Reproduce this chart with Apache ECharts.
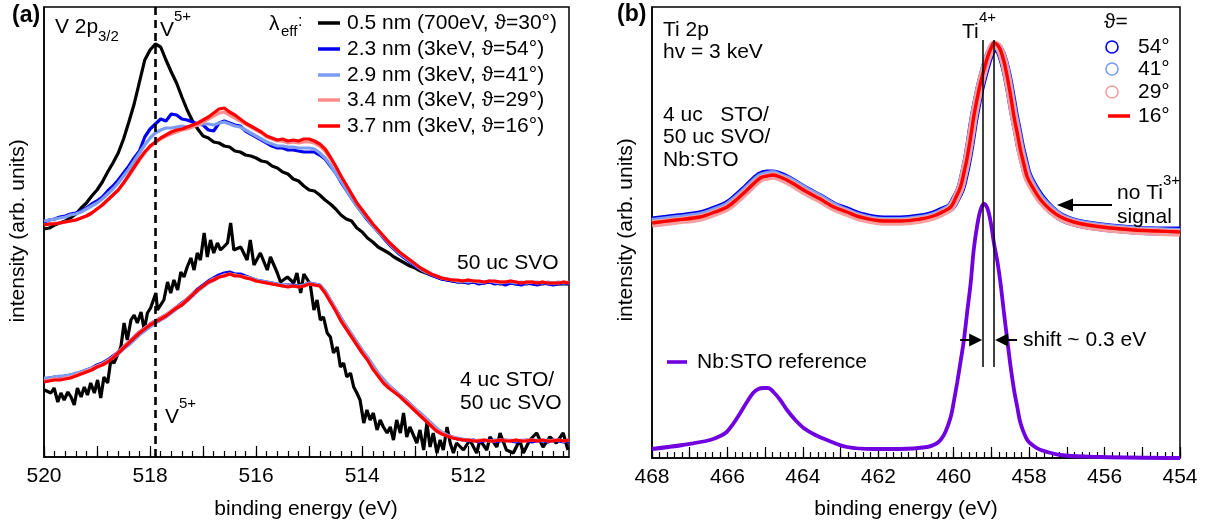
<!DOCTYPE html>
<html>
<head>
<meta charset="utf-8">
<script src="https://cdn.jsdelivr.net/npm/echarts@6/dist/echarts.min.js"></script>
<style>
  html, body { margin: 0; padding: 0; background: #fff; }
  #chart { width: 1209px; height: 524px; }
</style>
</head>
<body>
<div id="chart"></div>
<script>
// ---------- (a) V 2p3/2 spectra ----------
// binding energy grid (eV) shared by the smooth V 2p curves
const energyV = [
  520.0,519.9,519.8,519.7,519.6,519.5,519.4,519.3,519.2,519.1,
  519.0,518.9,518.8,518.7,518.6,518.5,518.4,518.3,518.2,518.1,
  518.0,517.9,517.8,517.7,517.6,517.5,517.4,517.3,517.2,517.1,
  517.0,516.9,516.8,516.7,516.6,516.5,516.4,516.3,516.2,516.1,
  516.0,515.9,515.8,515.7,515.6,515.5,515.4,515.3,515.2,515.1,
  515.0,514.9,514.8,514.7,514.6,514.5,514.4,514.3,514.2,514.1,
  514.0,513.9,513.8,513.7,513.6,513.5,513.4,513.3,513.2,513.1,
  513.0,512.9,512.8,512.7,512.6,512.5,512.4,512.3,512.2,512.1,
  512.0,511.9,511.8,511.7,511.6,511.5,511.4,511.3,511.2,511.1,
  511.0,510.9,510.8,510.7,510.6,510.5,510.4,510.3,510.2,510.1
];

// 50 uc SVO (upper set, offset)
const svo05 = [
  228,229,232,234,236,239,243,249,254,261,
  267,275,285,294,304,318,335,353,375,397,
  407,413,410,397,385,374,360,347,336,328,
  321,319,315,314,311,310,306,305,302,301,
  299,296,295,291,289,285,283,278,276,271,
  267,266,262,257,253,248,242,238,236,229,
  225,219,215,210,207,204,200,197,194,191,
  189,186,184,182,180,178,177,176,175,175,
  174,175,174,174,175,174,173,174,174,173,
  174,173,174,173,173,174,173,173,173,173
];
const svo23 = [
  235,237,238,240,241,243,244,246,249,253,
  256,260,266,271,277,284,291,299,306,320,
  328,333,338,336,343,342,338,337,335,333,
  332,327,326,334,336,334,332,331,326,323,
  320,317,314,311,309,309,307,307,306,305,
  305,305,302,298,291,284,275,267,259,251,
  244,237,231,225,219,213,208,203,199,195,
  191,188,185,182,180,178,177,176,175,175,
  174,175,173,174,175,173,174,172,174,173,
  172,174,173,172,174,173,172,173,174,173
];
const svo29 = [
  236,237,238,239,240,242,243,245,248,251,
  254,258,263,268,274,281,288,296,304,312,
  319,324,327,329,329,330,331,330,331,332,
  333,333,332,334,335,333,331,330,327,324,
  321,318,315,313,311,311,310,310,309,309,
  309,308,304,299,292,284,276,267,259,251,
  244,238,231,225,220,214,209,204,200,196,
  192,188,185,183,181,179,178,177,176,176,
  175,176,175,175,176,175,174,175,175,174,
  175,174,175,175,174,175,174,175,174,175
];
const svo34 = [
  232,233,234,234,235,236,237,239,241,244,
  248,252,257,262,267,274,281,289,297,304,
  310,314,318,321,323,325,327,328,330,332,
  335,338,341,344,345,342,339,336,333,330,
  327,324,320,318,316,316,314,315,314,315,
  315,314,311,306,298,290,281,272,263,254,
  247,240,233,227,221,215,210,205,201,197,
  193,189,186,183,181,179,178,177,176,176,
  177,176,175,175,176,175,175,175,176,175,
  174,175,175,174,175,174,174,174,175,174
];
const svo37 = [
  232,233,233,234,235,236,237,239,241,244,
  248,252,257,262,267,274,282,290,298,305,
  311,315,319,322,325,327,328,330,332,334,
  337,340,344,348,349,345,342,338,334,331,
  328,325,321,319,317,318,316,317,316,318,
  318,316,313,308,300,291,281,272,263,254,
  247,240,233,227,221,215,210,205,201,197,
  193,189,186,183,181,179,178,177,177,176,
  177,176,176,175,176,176,175,175,176,175,
  174,175,175,174,175,174,174,174,175,174
];

// 4 uc STO / 50 uc SVO (lower set), soft-x-ray spectrum on its own energy steps
const capE05 = [
  519.99,519.87,519.81,519.74,519.68,519.62,519.55,519.49,519.43,519.37,
  519.30,519.24,519.18,519.12,519.05,518.99,518.93,518.87,518.80,518.74,
  518.68,518.55,518.49,518.43,518.36,518.30,518.24,518.17,518.11,518.05,
  517.99,517.89,517.86,517.74,517.67,517.61,517.55,517.48,517.42,517.36,
  517.30,517.23,517.17,517.11,517.05,516.98,516.92,516.86,516.80,516.73,
  516.67,516.54,516.48,516.42,516.29,516.17,516.11,516.04,515.92,515.79,
  515.73,515.60,515.54,515.41,515.35,515.29,515.23,515.16,515.10,514.98,
  514.91,514.85,514.79,514.73,514.66,514.60,514.54,514.47,514.41,514.35,
  514.29,514.22,514.16,514.10,514.04,513.97,513.91,513.85,513.79,513.72,
  513.66,513.60,513.53,513.47,513.41,513.35,513.28,513.22,513.16,513.10,
  512.97,512.91,512.84,512.78,512.72,512.66,512.59,512.53,512.47,512.40,
  512.34,512.28,512.22,512.09,511.97,511.84,511.78,511.65,511.59,511.46,
  511.40,511.28,511.15,511.03,510.96,510.84,510.71,510.59,510.46,510.34,
  510.21,510.12
];
const cap05 = [
  67,64,69,55,64,57,65,60,52,69,
  60,70,62,74,64,77,59,80,74,97,
  94,110,134,117,137,142,134,145,127,144,
  149,164,147,157,175,164,177,167,185,180,
  190,199,187,204,197,224,200,217,204,214,
  207,214,234,207,210,197,217,192,204,187,
  200,184,175,180,177,174,184,164,183,173,
  147,157,137,140,124,120,104,110,90,94,
  80,84,70,64,57,34,47,37,44,27,
  37,30,24,30,17,37,24,44,20,30,
  14,27,7,34,10,24,4,17,7,30,
  14,4,14,7,17,4,17,7,20,10,
  24,7,4,17,4,17,24,10,20,14,
  24,7
];
const cap23 = [
  78,79,80,80,81,82,83,85,87,89,
  92,94,97,101,105,110,115,120,125,129,
  133,136,139,142,146,150,154,158,163,168,
  172,176,179,182,184,185,183,183,181,179,
  177,176,175,174,173,172,172,172,171,172,
  174,173,172,166,157,148,139,130,122,114,
  106,99,91,83,77,71,67,62,58,53,
  48,43,38,33,28,24,22,20,18,17,
  16,17,15,16,17,15,16,17,16,15,
  16,17,15,16,16,15,17,16,15,16
];
const cap29 = [
  79,79,80,81,81,82,84,85,87,89,
  91,93,96,99,103,108,112,117,122,126,
  130,134,137,140,144,148,152,156,161,166,
  170,174,177,180,182,183,182,181,180,179,
  177,176,175,174,173,172,171,171,171,172,
  174,173,172,166,157,148,139,131,123,115,
  107,100,92,84,78,72,67,62,58,53,
  48,44,39,34,29,25,22,20,19,18,
  17,17,16,17,16,17,17,16,17,16,
  17,16,17,17,16,17,16,17,16,17
];
const cap34 = [
  76,77,78,78,79,80,82,84,86,88,
  91,93,96,100,105,110,115,120,125,129,
  133,136,139,142,146,150,153,158,163,167,
  171,175,178,180,182,183,182,181,180,178,
  176,175,174,173,172,171,171,171,170,171,
  173,172,171,165,156,147,137,129,121,113,
  105,98,89,82,75,70,66,61,57,52,
  47,42,37,32,27,24,21,20,18,17,
  17,16,17,17,16,16,17,17,16,17,
  16,17,17,16,17,16,17,17,16,17
];
const cap37 = [
  75,76,77,77,78,79,81,83,85,87,
  90,92,95,99,104,109,114,119,124,128,
  132,135,138,141,145,149,152,157,162,167,
  171,175,177,180,181,183,181,181,179,178,
  176,175,174,173,172,171,170,171,170,171,
  173,172,171,164,155,146,136,128,120,112,
  104,97,88,81,74,69,65,61,56,51,
  46,41,36,31,26,23,21,19,18,17,
  17,16,16,17,16,16,17,16,16,17,
  16,16,17,16,17,16,16,17,16,17
];

const v5Energy = 517.9;
const legendA = [
  '0.5 nm (700eV, \u03D1=30\u00B0)',
  '2.3 nm (3keV, \u03D1=54\u00B0)',
  '2.9 nm (3keV, \u03D1=41\u00B0)',
  '3.4 nm (3keV, \u03D1=29\u00B0)',
  '3.7 nm (3keV, \u03D1=16\u00B0)'
];
const colorsA = ['#000000', '#0000f0', '#7c9cf4', '#ff8c8c', '#ff0000'];
const tickLabelsA = [520, 518, 516, 514, 512];
const majorTicksA = [520, 519, 518, 517, 516, 515, 514, 513, 512, 511];

// ---------- (b) Ti 2p spectra ----------
const energyTi = [
  468.00,467.36,466.73,466.33,466.01,465.74,465.48,465.13,464.95,464.79,
  464.60,464.33,463.89,463.54,463.18,462.83,462.48,461.86,461.41,460.88,
  460.54,460.30,460.08,459.95,459.82,459.73,459.64,459.55,459.47,459.38,
  459.29,459.20,459.11,459.02,458.93,458.84,458.76,458.67,458.58,458.49,
  458.40,458.31,458.23,458.14,458.05,457.88,457.69,457.43,457.16,456.82,
  456.45,455.84,455.22,454.61,454.00
];
const ti54 = [
  237,240,243,248,253,261,270,282,284,284,
  282,277,267,260,252,247,242,238,238,240,
  243,247,251,259,269,282,298,318,338,356,
  372,385,397,406,411,410,406,396,382,364,
  344,327,311,297,284,271,260,249,241,236,
  233,230,228,227,227
];
const ti41 = [
  236,239,242,247,252,260,269,281,283,284,
  281,277,267,260,252,246,241,237,237,239,
  242,246,251,259,270,284,300,320,340,358,
  374,387,399,408,413,412,407,397,382,363,
  343,326,310,296,283,270,259,249,241,236,
  233,230,228,227,226
];
const ti29 = [
  234,237,240,245,250,258,267,279,281,282,
  280,275,265,258,250,245,240,236,236,238,
  241,245,250,259,270,284,300,320,340,358,
  374,387,399,408,414,412,407,396,380,361,
  340,323,307,293,280,268,257,247,240,235,
  232,229,227,226,225
];
const ti16 = [
  235,238,241,246,251,259,268,280,282,283,
  281,276,266,259,251,246,241,237,237,239,
  242,246,251,260,271,285,301,321,341,359,
  375,388,400,409,415,413,408,397,381,362,
  341,324,308,294,281,269,258,248,241,236,
  233,230,228,227,226
];
// Nb:STO reference
const energyRef = [
  468.00,467.18,466.46,466.19,466.02,465.85,465.66,465.50,465.32,465.18,
  465.04,464.92,464.78,464.60,464.42,464.20,463.98,463.67,463.36,462.83,
  462.12,461.41,460.70,460.48,460.35,460.22,460.08,459.99,459.91,459.82,
  459.73,459.64,459.55,459.47,459.38,459.29,459.20,459.11,459.02,458.93,
  458.84,458.76,458.67,458.58,458.49,458.40,458.31,458.23,458.05,457.88,
  457.69,457.16,456.10,454.00
];
const nbRef = [
  9,13,18,22,26,34,45,55,65,69,
  70,70,66,58,48,38,30,23,18,11,
  9,9,11,14,18,26,41,58,75,96,
  118,147,175,208,232,248,254,250,236,214,
  196,175,146,118,91,68,50,35,18,12,
  8,3,1,0
];
const ti4Ref = 459.22;   // Ti4+ position, Nb:STO
const ti4Film = 458.93;  // Ti4+ position, capped film
const legendB = ['54\u00B0', '41\u00B0', '29\u00B0', '16\u00B0'];
const colorsB = ['#0000e6', '#7c9cf4', '#f4a0a0', '#ff0000'];
const refColor = '#7000e0';
const tickLabelsB = [468, 466, 464, 462, 460, 458, 456, 454];
const majorTicksB = [468,467,466,465,464,463,462,461,460,459,458,457,456,455,454];

// ---------- helpers ----------
const FONT = '"Liberation Sans", Arial, Helvetica, sans-serif';
function steps(lo, hi, step) {
  const out = [];
  for (let v = lo; v <= hi + 1e-9; v += step) out.push(Math.round(v * 10) / 10);
  return out;
}
const pairs = (xs, ys) => xs.map((x, i) => [x, ys[i]]);

function energyAxes(gridIndex, min, max, majors, labels) {
  return [
    {
      type: 'value', gridIndex, min, max, inverse: true, position: 'bottom',
      axisLine: { show: true, lineStyle: { color: '#000', width: 1.5 } },
      axisTick: { show: true, inside: true, length: 11, customValues: majors,
                  lineStyle: { color: '#000', width: 1.2 } },
      axisLabel: { show: true, customValues: labels, color: '#000', fontSize: 21,
                   fontFamily: FONT, margin: 9 },
      splitLine: { show: false }
    },
    {
      type: 'value', gridIndex, min, max, inverse: true, position: 'bottom', offset: 0,
      axisLine: { show: false },
      axisTick: { show: true, inside: true, length: 6,
                  customValues: steps(Math.ceil(min * 5) / 5, max, 0.2),
                  lineStyle: { color: '#000', width: 1.2 } },
      axisLabel: { show: false },
      splitLine: { show: false }
    }
  ];
}
function intensityAxis(gridIndex, max) {
  return {
    type: 'value', gridIndex, min: 0, max,
    axisLine: { show: true, lineStyle: { color: '#000', width: 1.5 } },
    axisTick: { show: false }, axisLabel: { show: false }, splitLine: { show: false }
  };
}
function line(name, xs, ys, color, width, xi, yi, extra) {
  return Object.assign({
    name, type: 'line', xAxisIndex: xi, yAxisIndex: yi,
    data: pairs(xs, ys), showSymbol: false, silent: true,
    lineStyle: { color, width }, itemStyle: { color }
  }, extra || {});
}

const W = 3.2;
const seriesA = [
  line(legendA[0], energyV, svo05, colorsA[0], W, 0, 0, {
    markLine: {
      silent: true, symbol: 'none', label: { show: false },
      lineStyle: { color: '#000', width: 2.6, type: [8, 5] },
      data: [{ xAxis: v5Energy }]
    }
  }),
  line(legendA[1], energyV, svo23, colorsA[1], W, 0, 0),
  line(legendA[2], energyV, svo29, colorsA[2], W, 0, 0),
  line(legendA[3], energyV, svo34, colorsA[3], W, 0, 0),
  line(legendA[4], energyV, svo37, colorsA[4], W, 0, 0),
  line(legendA[0] + ' cap', capE05, cap05, colorsA[0], W, 0, 0),
  line(legendA[1] + ' cap', energyV, cap23, colorsA[1], W, 0, 0),
  line(legendA[2] + ' cap', energyV, cap29, colorsA[2], W, 0, 0),
  line(legendA[3] + ' cap', energyV, cap34, colorsA[3], W, 0, 0),
  line(legendA[4] + ' cap', energyV, cap37, colorsA[4], W, 0, 0)
];
const seriesB = [
  line(legendB[0], energyTi, ti54, colorsB[0], 9, 2, 1, { smooth: 0.35 }),
  line(legendB[1], energyTi, ti41, colorsB[1], 8, 2, 1, { smooth: 0.35 }),
  line(legendB[2], energyTi, ti29, colorsB[2], 7.5, 2, 1, { smooth: 0.35 }),
  line(legendB[3], energyTi, ti16, colorsB[3], 3.4, 2, 1, { smooth: 0.35 }),
  line('Nb:STO reference', energyRef, nbRef, refColor, 3.8, 2, 1, {
    smooth: 0.35,
    markLine: {
      silent: true, symbol: 'none', label: { show: false },
      lineStyle: { color: '#000', width: 1.5, type: 'solid' },
      data: [
        [{ coord: [ti4Ref, 418] }, { coord: [ti4Ref, 91] }],
        [{ coord: [ti4Film, 418] }, { coord: [ti4Film, 91] }]
      ]
    }
  })
];

const chart = echarts.init(document.getElementById('chart'), null, { renderer: 'canvas' });
chart.setOption({
  animation: false,
  backgroundColor: '#fff',
  textStyle: { fontFamily: FONT },
  grid: [
    { left: 44, right: 640, top: 7, bottom: 67, show: true, borderColor: '#000', borderWidth: 1.5, containLabel: false },
    { left: 652, right: 29, top: 7, bottom: 66, show: true, borderColor: '#000', borderWidth: 1.5, containLabel: false }
  ],
  xAxis: [
    ...energyAxes(0, 510.1, 520, majorTicksA, tickLabelsA),
    ...energyAxes(1, 454, 468, majorTicksB, tickLabelsB)
  ],
  yAxis: [intensityAxis(0, 450), intensityAxis(1, 451)],
  series: [...seriesA, ...seriesB]
});

// ---------- annotations ----------
function txt(x, y, s, size, extra) {
  return {
    type: 'text', x, y, silent: true, z: 100,
    style: Object.assign({ text: s, fill: '#000', fontSize: size, fontFamily: FONT,
                           align: 'left', verticalAlign: 'middle' }, extra || {})
  };
}
function seg(x1, y1, x2, y2, color, width) {
  return { type: 'line', silent: true, z: 100, shape: { x1, y1, x2, y2 },
           style: { stroke: color, lineWidth: width } };
}
function tri(points) {
  return { type: 'polygon', silent: true, z: 100, shape: { points }, style: { fill: '#000' } };
}

const g = [];
// panel (a)
g.push(txt(12, 16, '(a)', 23, { fontWeight: 'bold' }));
g.push(txt(55, 27, 'V 2p', 21));
g.push(txt(98, 37, '3/2', 15));
g.push(txt(160, 30, 'V', 21));
g.push(txt(174, 17, '5+', 15));
g.push(txt(165, 417, 'V', 21));
g.push(txt(179, 404, '5+', 15));
g.push(txt(269, 24, '\u03BB', 21));
g.push(txt(281, 32, 'eff', 15));
g.push(txt(298, 22, ':', 16));
const rowsA = [23, 49, 75, 100, 126];
legendA.forEach((label, i) => {
  g.push(seg(318, rowsA[i], 340, rowsA[i], colorsA[i], 3.5));
  g.push(txt(347, rowsA[i], label, 21));
});
g.push(txt(457, 263, '50 uc SVO', 21));
g.push(txt(460, 380, '4 uc STO/', 21));
g.push(txt(460, 403, '50 uc SVO', 21));
g.push(txt(18, 231, 'intensity (arb. units)', 21, { align: 'center' }));
g[g.length - 1].rotation = Math.PI / 2;
g.push(txt(306, 509, 'binding energy (eV)', 21, { align: 'center' }));

// panel (b)
g.push(txt(617, 15, '(b)', 23, { fontWeight: 'bold' }));
g.push(txt(663, 30, 'Ti 2p', 21));
g.push(txt(663, 52, 'hv = 3 keV', 21));
g.push(txt(663, 115, '4 uc   STO/', 21));
g.push(txt(663, 137, '50 uc SVO/', 21));
g.push(txt(663, 160, 'Nb:STO', 21));
g.push(txt(962, 32, 'Ti', 21));
g.push(txt(979, 18, '4+', 15));
g.push(txt(1104, 22, '\u03D1=', 21));
const rowsB = [47, 69, 92, 116];
legendB.forEach((label, i) => {
  if (i < 3) {
    g.push({ type: 'circle', silent: true, z: 100, shape: { cx: 1112, cy: rowsB[i], r: 6 },
             style: { fill: 'none', stroke: colorsB[i], lineWidth: 1.6 } });
  } else {
    g.push(seg(1108, rowsB[i], 1130, rowsB[i], colorsB[i], 3.5));
  }
  g.push(txt(1138, rowsB[i], label, 21));
});
g.push(txt(1117, 193, 'no Ti', 21));
g.push(txt(1163, 181, '3+', 15));
g.push(txt(1117, 217, 'signal', 21));
g.push(seg(1112, 205, 1070, 205, '#000', 2));
g.push(tri([[1057, 205], [1073, 198.5], [1073, 211.5]]));
g.push(seg(667, 362, 687, 362, refColor, 3.6));
g.push(txt(697, 362, 'Nb:STO reference', 21));
g.push(txt(626, 230, 'intensity (arb. units)', 21, { align: 'center' }));
g[g.length - 1].rotation = Math.PI / 2;
g.push(txt(906, 509, 'binding energy (eV)', 21, { align: 'center' }));

// shift arrows pointing at the two Ti4+ markers
const pRef = chart.convertToPixel({ xAxisIndex: 2, yAxisIndex: 1 }, [ti4Ref, 118]);
const pFilm = chart.convertToPixel({ xAxisIndex: 2, yAxisIndex: 1 }, [ti4Film, 118]);
g.push(seg(pRef[0] - 23, pRef[1], pRef[0] - 12, pRef[1], '#000', 2));
g.push(tri([[pRef[0] - 1, pRef[1]], [pRef[0] - 14, pRef[1] - 6.5], [pRef[0] - 14, pRef[1] + 6.5]]));
g.push(seg(pFilm[0] + 12, pFilm[1], pFilm[0] + 23, pFilm[1], '#000', 2));
g.push(tri([[pFilm[0] + 1, pFilm[1]], [pFilm[0] + 14, pFilm[1] - 6.5], [pFilm[0] + 14, pFilm[1] + 6.5]]));
g.push(txt(1023, pFilm[1], 'shift ~ 0.3 eV', 21));

chart.setOption({ graphic: g });
</script>
</body>
</html>
